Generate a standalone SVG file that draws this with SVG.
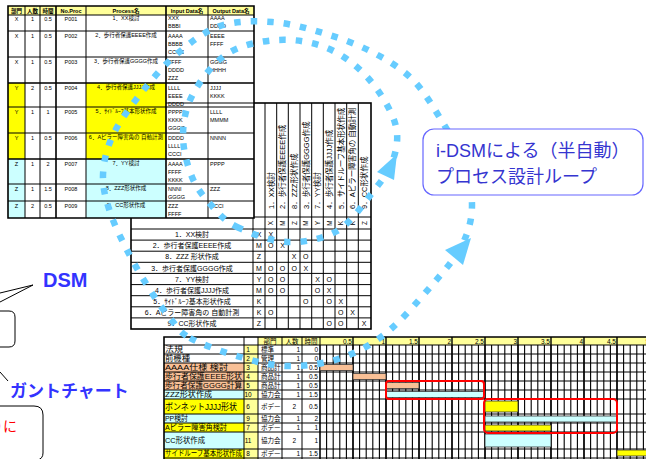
<svg xmlns="http://www.w3.org/2000/svg" width="646" height="459" viewBox="0 0 646 459">
<style>
text{font-family:"Liberation Sans","Noto Sans CJK JP",sans-serif;fill:#000}
.p{font-size:5.5px}
.m{text-anchor:middle}
.e{text-anchor:end}
.b{font-weight:bold}
.ln{stroke:#000;stroke-width:1;fill:none}
.thk{stroke:#000;stroke-width:1.6;fill:none}
.ds{font-size:7px}
.dh{font-size:7.5px}
.g{font-size:7.5px}
.gs{font-size:6.5px}
.dot{fill:none;stroke:#66ccff;stroke-width:6.5;stroke-dasharray:6.5 10}
.ah{fill:#66ccff}
.bar{stroke:#333;stroke-width:0.8}
.or{fill:#f9c096}
.cy{fill:#ccffff}
.ye{fill:#ffff00}
.py{fill:#ffff99}
</style>

<g id="dsm">
<rect x="131" y="103" width="240" height="226" fill="#fff"/>
<path class="ln" d="M253 103V329M265 103V329M276.7 103V329M288.3 103V329M300 103V329M311.7 103V329M323.3 103V329M335 103V329M346.7 103V329M358.3 103V329M131 217H371M131 229H371M131 240.1H371M131 251.2H371M131 262.3H371M131 273.4H371M131 284.6H371M131 295.7H371M131 306.8H371M131 317.9H371"/>
<rect class="thk" x="131" y="103" width="240" height="226"/>
<g class="dh">
<text transform="translate(273.5,209) rotate(-90)">1．XX検討</text>
<text transform="translate(285.2,209) rotate(-90)">2．歩行者保護EEEE作成</text>
<text transform="translate(296.9,209) rotate(-90)">8．ZZZ形状作成</text>
<text transform="translate(308.5,209) rotate(-90)">3．歩行者保護GGGG作成</text>
<text transform="translate(320.2,209) rotate(-90)">7．YY検討</text>
<text transform="translate(331.9,209) rotate(-90)">4．歩行者保護JJJJ作成</text>
<text transform="translate(343.5,209) rotate(-90)">5．サイドルーフ基本形状作成</text>
<text transform="translate(355.2,209) rotate(-90)">6．Aピラー障害角の 自動計測</text>
<text transform="translate(366.9,209) rotate(-90)">9．CC形状作成</text>
</g>
<g class="gs m">
<text transform="translate(273.2,223) rotate(-90)">X</text>
<text transform="translate(284.9,223) rotate(-90)">M</text>
<text transform="translate(296.6,223) rotate(-90)">Z</text>
<text transform="translate(308.2,223) rotate(-90)">M</text>
<text transform="translate(319.9,223) rotate(-90)">Y</text>
<text transform="translate(331.6,223) rotate(-90)">M</text>
<text transform="translate(343.2,223) rotate(-90)">K</text>
<text transform="translate(354.9,223) rotate(-90)">K</text>
<text transform="translate(366.6,223) rotate(-90)">Z</text>
</g>
<g class="ds m">
<text x="192" y="237.2">1．XX検討</text>
<text x="192" y="248.3">2．歩行者保護EEEE作成</text>
<text x="192" y="259.4">8．ZZZ 形状作成</text>
<text x="192" y="270.5">3．歩行者保護GGGG作成</text>
<text x="192" y="281.6">7．YY検討</text>
<text x="192" y="292.7">4．歩行者保護JJJJ作成</text>
<text x="192" y="303.8">5．ｻｲﾄﾞﾙｰﾌ基本形状作成</text>
<text x="192" y="314.9">6．Aピラー障害角の 自動計測</text>
<text x="192" y="326">9．CC形状作成</text>
<text x="259" y="237.2">X</text><text x="270.8" y="237.2">X</text>
<text x="259" y="248.3">M</text><text x="270.8" y="248.3">O</text><text x="282.5" y="248.3">X</text>
<text x="259" y="259.4">Z</text><text x="294.2" y="259.4">X</text><text x="305.8" y="259.4">O</text>
<text x="259" y="270.5">M</text><text x="270.8" y="270.5">O</text><text x="282.5" y="270.5">O</text><text x="294.2" y="270.5">O</text><text x="305.8" y="270.5">X</text>
<text x="259" y="281.6">Y</text><text x="270.8" y="281.6">O</text><text x="282.5" y="281.6">O</text><text x="317.5" y="281.6">X</text><text x="329.2" y="281.6">O</text>
<text x="259" y="292.7">M</text><text x="270.8" y="292.7">O</text><text x="282.5" y="292.7">O</text><text x="317.5" y="292.7">O</text><text x="329.2" y="292.7">X</text>
<text x="259" y="303.8">K</text><text x="305.8" y="303.8">O</text><text x="329.2" y="303.8">O</text><text x="340.8" y="303.8">X</text>
<text x="259" y="314.9">K</text><text x="270.8" y="314.9">O</text><text x="340.8" y="314.9">O</text><text x="352.5" y="314.9">X</text>
<text x="259" y="326">Z</text><text x="329.2" y="326">O</text><text x="340.8" y="326">O</text><text x="364.2" y="326">X</text>
</g>
</g>

<g id="process-table">
<rect x="8" y="6" width="246" height="212" fill="#fff"/>
<rect x="8" y="6" width="246" height="9" class="py"/>
<rect x="8" y="83" width="17" height="76" class="ye"/>
<rect x="86" y="83" width="80" height="76" class="ye"/>
<rect x="8" y="159" width="17" height="59" class="cy"/>
<rect x="86" y="159" width="80" height="59" class="cy"/>
<path class="ln" d="M8 15H254M8 31H254M8 57H254M8 107H254M8 133H254M8 184H254M8 201H254M166 103H254M25 6V218M40 6V218M86 6V218M208 6V218"/>
<path class="thk" d="M8 6H254V218H8ZM56 6V218M166 6V218M8 83H254M8 159H254"/>
<g class="p b m">
<text x="16.5" y="13">部門</text><text x="32.5" y="13">人数</text><text x="48" y="13">時間</text><text x="71" y="13">No.Proc</text><text x="126" y="13">Process名</text><text x="187" y="13">Input Data名</text><text x="231" y="13">Output Data名</text>
</g>
<g class="p m">
<text x="16.5" y="21">X</text><text x="32.5" y="21">1</text><text x="48" y="21">0.5</text><text x="71" y="21">P001</text><text x="126" y="20">1．XX検討</text>
<text x="16.5" y="38">X</text><text x="32.5" y="38">1</text><text x="48" y="38">0.5</text><text x="71" y="38">P002</text><text x="126" y="37">2．歩行者保護EEEE作成</text>
<text x="16.5" y="64">X</text><text x="32.5" y="64">1</text><text x="48" y="64">0.5</text><text x="71" y="64">P003</text><text x="126" y="63">3．歩行者保護GGGG作成</text>
<text x="16.5" y="90">Y</text><text x="32.5" y="90">2</text><text x="48" y="90">0.5</text><text x="71" y="90">P004</text><text x="126" y="89">4．歩行者保護JJJJ作成</text>
<text x="16.5" y="114">Y</text><text x="32.5" y="114">1</text><text x="48" y="114">1</text><text x="71" y="114">P005</text><text x="126" y="113">5．ｻｲﾄﾞﾙｰﾌ基本形状作成</text>
<text x="16.5" y="140">Y</text><text x="32.5" y="140">1</text><text x="48" y="140">0.5</text><text x="71" y="140">P006</text><text x="126" y="139">6．Aピラー障害角の 自動計測</text>
<text x="16.5" y="166">Z</text><text x="32.5" y="166">1</text><text x="48" y="166">2</text><text x="71" y="166">P007</text><text x="126" y="165">7．YY検討</text>
<text x="16.5" y="191">Z</text><text x="32.5" y="191">1</text><text x="48" y="191">1.5</text><text x="71" y="191">P008</text><text x="126" y="190">8．ZZZ形状作成</text>
<text x="16.5" y="208">Z</text><text x="32.5" y="208">2</text><text x="48" y="208">0.5</text><text x="71" y="208">P009</text><text x="126" y="207">9．CC形状作成</text>
</g>
<g class="p">
<text x="168" y="20">XXX<tspan x="168" dy="8">BBBI</tspan></text>
<text x="210" y="20">AAAA<tspan x="210" dy="8">DDDD</tspan></text>
<text x="168" y="38">AAAA<tspan x="168" dy="8">BBBB</tspan><tspan x="168" dy="8">CCCC</tspan></text>
<text x="210" y="38">EEEE<tspan x="210" dy="8">FFFF</tspan></text>
<text x="168" y="64">FFFF<tspan x="168" dy="8">DDDD</tspan><tspan x="168" dy="8">ZZZ</tspan></text>
<text x="210" y="64">GGGG<tspan x="210" dy="8">HHHH</tspan></text>
<text x="168" y="90">LLLL<tspan x="168" dy="8">EEEE</tspan><tspan x="168" dy="8">DDDD</tspan></text>
<text x="210" y="90">JJJJ<tspan x="210" dy="8">KKKK</tspan></text>
<text x="168" y="114">PPPP<tspan x="168" dy="8">KKKK</tspan><tspan x="168" dy="8">GGGG</tspan></text>
<text x="210" y="114">LLLL<tspan x="210" dy="8">MMMM</tspan></text>
<text x="168" y="140">DDDD<tspan x="168" dy="8">LLLL</tspan><tspan x="168" dy="8">CCCI</tspan></text>
<text x="210" y="140">NNNN</text>
<text x="168" y="166">AAAA<tspan x="168" dy="8">FFFF</tspan><tspan x="168" dy="8">KKKK</tspan></text>
<text x="210" y="166">PPPP</text>
<text x="168" y="191">NNNI<tspan x="168" dy="8">GGGG</tspan></text>
<text x="210" y="191">ZZZ</text>
<text x="168" y="208">ZZZ<tspan x="168" dy="8">FFFF</tspan></text>
<text x="210" y="208">CCCI</text>
</g>
</g>

<g id="gantt">
<rect x="164" y="337" width="482" height="122" fill="#fff"/>
<rect x="258" y="337" width="388" height="8" class="py"/>
<rect x="244" y="345" width="14" height="114" class="py"/>
<rect x="164" y="363" width="80" height="27" class="or"/>
<rect x="164" y="390" width="80" height="9" class="cy"/>
<rect x="164" y="399" width="80" height="15" class="ye"/>
<rect x="164" y="414" width="80" height="9" class="cy"/>
<rect x="164" y="423" width="80" height="9" class="ye"/>
<rect x="164" y="432" width="80" height="17" class="cy"/>
<rect x="164" y="449" width="80" height="10" class="ye"/>
<path stroke="#000" stroke-width="1.1" fill="none" d="M320 345v114m6.6-114v114m6.6-114v114m6.6-114v114m6.6-114v114m6.6-114v114m6.6-114v114m6.6-114v114m6.6-114v114m6.6-114v114m6.6-114v114m6.6-114v114m6.6-114v114m6.6-114v114m6.6-114v114m6.6-114v114m6.6-114v114m6.6-114v114m6.6-114v114m6.6-114v114m6.6-114v114m6.6-114v114m6.6-114v114m6.6-114v114m6.6-114v114m6.6-114v114m6.6-114v114m6.6-114v114m6.6-114v114m6.6-114v114m6.6-114v114m6.6-114v114m6.6-114v114m6.6-114v114m6.6-114v114m6.6-114v114m6.6-114v114m6.6-114v114m6.6-114v114m6.6-114v114m6.6-114v114m6.6-114v114m6.6-114v114m6.6-114v114m6.6-114v114m6.6-114v114m6.6-114v114m6.6-114v114m6.6-114v114m6.6-114v114"/>
<path stroke="#000" stroke-width="1.4" fill="none" d="M353 337V459M386 337V459M419 337V459M452 337V459M485 337V459M518 337V459M551 337V459M584 337V459M617 337V459"/>
<path class="ln" d="M164 345H646M164 354H646M164 363H646M164 372H646M164 381H646M164 390H646M164 399H646M164 414H646M164 423H646M164 432H646M164 449H646M164 458H646M244 337V459M258 337V459M282 337V459M302 337V459M320 337V459"/>
<path class="thk" d="M164 459V337H646"/>
<rect class="bar or" x="320" y="364.5" width="33" height="6"/>
<rect class="bar or" x="353" y="373.5" width="33" height="6"/>
<rect class="bar or" x="386" y="382.5" width="33" height="6"/>
<rect class="bar cy" x="386" y="391.5" width="99" height="6"/>
<rect class="bar ye" x="485" y="401" width="33" height="11"/>
<rect class="bar cy" x="485" y="416" width="132" height="6"/>
<rect class="bar ye" x="485" y="425" width="66" height="6"/>
<rect class="bar cy" x="485" y="434" width="66" height="13"/>
<rect class="bar ye" x="617" y="450" width="99" height="6"/>
<rect x="386" y="381" width="98" height="18" rx="3" fill="none" stroke="#ff0000" stroke-width="2"/>
<rect x="484" y="399" width="133" height="34" rx="4" fill="none" stroke="#ff0000" stroke-width="2"/>
<g class="gs">
<text class="m" x="270" y="343.5">部門</text><text class="m" x="292" y="343.5">人数</text><text class="m" x="311" y="343.5">時間</text>
<text class="e" x="352" y="343.5">0.5</text><text class="e" x="385" y="343.5">1</text><text class="e" x="418" y="343.5">1.5</text><text class="e" x="451" y="343.5">2</text><text class="e" x="484" y="343.5">2.5</text><text class="e" x="517" y="343.5">3</text><text class="e" x="550" y="343.5">3.5</text><text class="e" x="583" y="343.5">4</text><text class="e" x="616" y="343.5">4.5</text><text class="e" x="649" y="343.5">5</text>
</g>
<g class="g">
<text x="165" y="352" textLength="18" lengthAdjust="spacingAndGlyphs">法規</text>
<text x="165" y="361" textLength="25" lengthAdjust="spacingAndGlyphs">前機種</text>
<text x="165" y="370" textLength="63" lengthAdjust="spacingAndGlyphs">AAAA仕様 検討</text>
<text x="165" y="379" textLength="77" lengthAdjust="spacingAndGlyphs">歩行者保護EEEE形状</text>
<text x="165" y="388" textLength="77" lengthAdjust="spacingAndGlyphs">歩行者保護GGGG計算</text>
<text x="165" y="397" textLength="47" lengthAdjust="spacingAndGlyphs">ZZZ形状作成</text>
<text x="165" y="410" textLength="72" lengthAdjust="spacingAndGlyphs" style="font-size:9px">ボンネットJJJJ形状</text>
<text x="165" y="421" textLength="23" lengthAdjust="spacingAndGlyphs">PP検討</text>
<text x="165" y="430" textLength="62" lengthAdjust="spacingAndGlyphs">Aピラー障害角検討</text>
<text x="165" y="443" textLength="40" lengthAdjust="spacingAndGlyphs">CC形状作成</text>
<text x="165" y="456" textLength="77" lengthAdjust="spacingAndGlyphs">サイドルーフ基本形状作成</text>
</g>
<g class="gs">
<g class="m">
<text x="248" y="352">1</text><text x="248" y="361">2</text><text x="248" y="370">3</text><text x="248" y="379">4</text><text x="248" y="388">5</text><text x="248" y="397">10</text><text x="248" y="409">6</text><text x="248" y="421">9</text><text x="248" y="430">7</text><text x="248" y="443">11</text><text x="248" y="456">8</text>
</g>
<text x="261" y="352">標準</text><text x="261" y="361">管理</text><text x="261" y="370">商品計</text><text x="261" y="379">商品計</text><text x="261" y="388">商品計</text><text x="261" y="397">協力会</text><text x="261" y="409">ボデー</text><text x="261" y="421">協力会</text><text x="261" y="430">ボデー</text><text x="261" y="443">協力会</text><text x="261" y="456">ボデー</text>
<g class="e">
<text x="300" y="352">1</text><text x="300" y="361">1</text><text x="300" y="370">1</text><text x="300" y="379">1</text><text x="300" y="388">1</text><text x="300" y="397">1</text><text x="296" y="409">2</text><text x="300" y="421">1</text><text x="300" y="430">1</text><text x="296" y="443">2</text><text x="300" y="456">1</text>
<text x="318" y="352">0</text><text x="318" y="361">0</text><text x="318" y="370">0.5</text><text x="318" y="379">0.5</text><text x="318" y="388">0.5</text><text x="318" y="397">1.5</text><text x="318" y="409">0.5</text><text x="318" y="421">2</text><text x="318" y="430">1</text><text x="318" y="443">1</text><text x="318" y="456">1.5</text>
</g>
</g>
</g>

<g id="connectors">
<path class="dot" d="M190 338C201.7 344.5 223.8 352.3 240 357C256.2 361.7 270.7 365.7 287 366C303.3 366.3 321.7 364.3 338 359C354.3 353.7 369.3 346.3 385 334C400.7 321.7 419.2 299.8 432 285C444.8 270.2 455.3 258.3 462 245C468.7 231.7 472 219.2 472 205C472 190.8 466.8 173.7 462 160C457.2 146.3 451.2 136.3 443 123C434.8 109.7 424.8 91.8 413 80C401.2 68.2 387 59.8 372 52C357 44.2 339.7 38 323 33C306.3 28 289.2 23.2 272 22C254.8 20.8 235.8 20.7 220 26C204.2 31.3 190 43 177 54C164 65 152.7 78.5 142 92C131.3 105.5 119.5 121.2 113 135C106.5 148.8 103.5 162.2 103 175C102.5 187.8 105.8 199.2 110 212C114.2 224.8 121.3 239 128 252C134.7 265 143 279 150 290C157 301 163.3 310 170 318C176.7 326 178.3 331.5 190 338Z"/>
<path class="dot" d="M237 227C249.5 233 270.3 241.3 287 242C303.7 242.7 322.8 239.2 337 231C351.2 222.8 362.7 204.8 372 193C381.3 181.2 389.2 171.7 393 160C396.8 148.3 399.2 136.7 395 123C390.8 109.3 379.3 90.5 368 78C356.7 65.5 342.2 54.3 327 48C311.8 41.7 293.7 39 277 40C260.3 41 241 45 227 54C213 63 200.3 80.5 193 94C185.7 107.5 183.2 121.2 183 135C182.8 148.8 187.2 165.2 192 177C196.8 188.8 204.5 197.7 212 206C219.5 214.3 224.5 221 237 227Z"/>
<polygon class="ah" points="471,238 445,250 463,265"/>
<polygon class="ah" points="397,154 377,172 394,180"/>
</g>

<g id="loop-label">
<rect x="423" y="129" width="220" height="66" rx="11" fill="#fff" stroke="#6666ff" stroke-width="1.2"/>
<text x="436" y="157" style="font-size:18px;fill:#3535d0">i-DSMによる（半自動）</text>
<text x="436" y="183" style="font-size:18px;fill:#3535d0">プロセス設計ループ</text>
</g>

<g id="callout-dsm">
<path class="ln" d="M0 293L33 285L0 302"/>
<path d="M0 311H9Q15 311 15 317V341Q15 347 9 347H0" fill="#fff" stroke="#000" stroke-width="1"/>
<text x="43" y="287" class="b" style="font-size:20px;fill:#3333ff">DSM</text>
</g>

<g id="callout-gantt">
<path class="ln" d="M0 372L8 381"/>
<text x="10" y="397" class="b" style="font-size:17px;fill:#3333ff">ガントチャート</text>
</g>

<g id="callout-red">
<path d="M0 406H34Q43 406 43 415V453Q43 459 37 460" fill="#fff" stroke="#000" stroke-width="1"/>
<text x="17" y="431" class="e" style="font-size:14px;fill:#ff0000">りに</text>
</g>
</svg>
